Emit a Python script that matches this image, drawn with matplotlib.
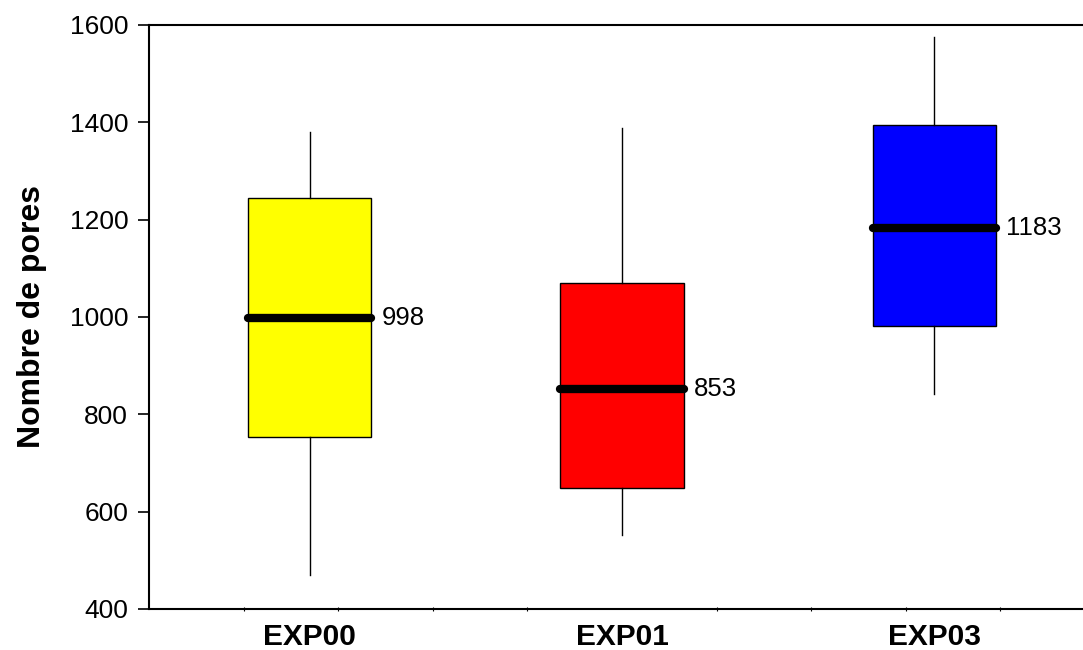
import matplotlib
matplotlib.use("Agg")
import matplotlib.pyplot as plt
import numpy as np

categories = ["EXP00", "EXP01", "EXP03"]
whisker_low = [470, 552, 842]
q1 = [754, 649, 982]
medians = [998, 853, 1183]
q3 = [1244, 1069, 1394]
whisker_high = [1380, 1388, 1576]
colors = ["#ffff00", "#ff0000", "#0000ff"]
y_ticks = [400, 600, 800, 1000, 1200, 1400, 1600]

plt.rcParams['font.family'] = ['Liberation Sans', 'DejaVu Sans']

fig = plt.figure(figsize=(10.83, 6.5), dpi=100)
W, H = 1083, 650
left, right, top, bottom = 149, 1095, 25, 609
ax = fig.add_axes([left / W, (H - bottom) / H, (right - left) / W, (bottom - top) / H])

positions = [1, 2, 3]
stats = []
for i, c in enumerate(categories):
    stats.append(dict(label=c, whislo=whisker_low[i], q1=q1[i], med=medians[i],
                      q3=q3[i], whishi=whisker_high[i], fliers=[]))

bp = ax.bxp(stats, positions=positions, widths=0.394, showcaps=False,
            showfliers=False, patch_artist=True,
            boxprops=dict(linewidth=1.0, edgecolor='black'),
            whiskerprops=dict(linewidth=1.0, color='black'),
            medianprops=dict(linewidth=6, color='black', solid_capstyle='round'))
for patch, col in zip(bp['boxes'], colors):
    patch.set_facecolor(col)

for i, p in enumerate(positions):
    ax.annotate(str(medians[i]), xy=(p + 0.394 / 2, medians[i]), xytext=(7.5, 0),
                textcoords='offset points', fontsize=18.5, va='center', ha='left')

xlim = (0.486, 3.514)
ax.set_xlim(*xlim)
ax.set_ylim(400, 1600)
ax.set_yticks(y_ticks)
ax.set_yticklabels([str(v) for v in y_ticks], fontsize=19)
ax.set_xticks(positions)
ax.set_xticklabels(categories, fontsize=21.5, fontweight='bold')
ax.tick_params(axis='x', which='major', length=0, pad=10)
ax.set_xticks(np.linspace(xlim[0], xlim[1], 11)[1:-1], minor=True)
ax.tick_params(axis='x', which='minor', length=2.5, direction='inout', width=0.8)
ax.tick_params(axis='y', which='major', length=8, width=1.2, direction='out', pad=7)
for s in ax.spines.values():
    s.set_linewidth(1.5)
ax.set_ylabel("Nombre de pores", fontsize=23, fontweight='bold', labelpad=16)

fig.savefig("out.png", dpi=100)
